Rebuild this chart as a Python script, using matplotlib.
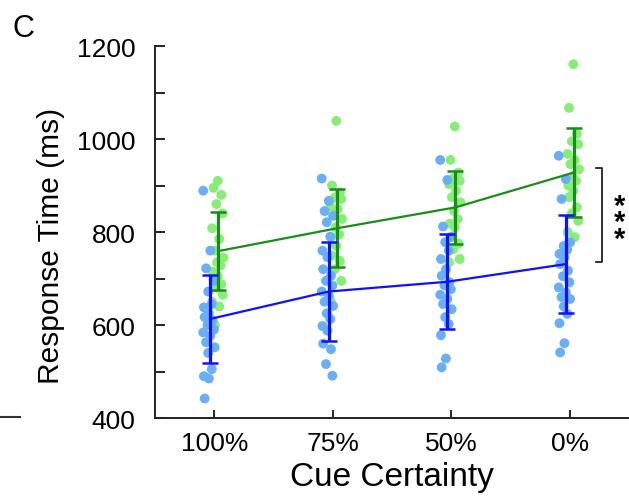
import matplotlib
matplotlib.use("Agg")
import matplotlib.pyplot as plt
from matplotlib.lines import Line2D

plt.rcParams['font.family'] = ['Liberation Sans', 'DejaVu Sans']

conditions = ["100%", "75%", "50%", "0%"]

# group means and error bar half-widths (ms)
green_mean = [759, 808, 853, 928]
green_err = [83, 84, 79, 95]
blue_mean = [613, 672, 693, 731]
blue_err = [95, 106, 102, 106]

# per-subject response times (ms)
green_pts = [
    [910, 895, 880, 860, 840, 808, 785, 760, 745, 735, 728, 715, 705, 698, 688, 680, 665, 650, 640, 600],
    [1039, 900, 885, 874, 871, 855, 849, 835, 828, 810, 795, 789, 770, 749, 738, 720, 695, 652],
    [1027, 955, 928, 915, 910, 903, 889, 875, 864, 845, 828, 818, 810, 789, 775, 763, 742, 735],
    [1161, 1067, 1011, 995, 989, 968, 955, 946, 935, 920, 910, 900, 889, 875, 853, 840, 824, 800, 789],
]
blue_pts = [
    [889, 760, 722, 695, 672, 645, 638, 625, 617, 610, 600, 590, 584, 577, 563, 552, 540, 505, 490, 485, 442],
    [915, 867, 845, 835, 821, 790, 760, 746, 720, 706, 695, 685, 672, 663, 650, 641, 625, 613, 598, 588, 560, 548, 516, 491],
    [955, 912, 812, 790, 778, 760, 742, 720, 706, 692, 685, 677, 665, 656, 645, 634, 617, 602, 578, 528, 509],
    [964, 914, 871, 778, 770, 762, 753, 745, 731, 717, 705, 692, 681, 670, 660, 656, 640, 624, 604, 561, 541],
]

# significance bracket (ms)
sig_top, sig_bottom = 938, 735
sig_label = '*\n*\n*'

jitter = [0.0, -0.06, 0.05, -0.02, 0.07, -0.08, 0.02, -0.04, 0.08, -0.01, 0.04, -0.07]

GREEN_DOT = '#86ee75'
BLUE_DOT = '#6aaef6'
GREEN_LINE = '#1a8c1a'
BLUE_LINE = '#1010ff'

fig = plt.figure(figsize=(6.29, 5.02), dpi=100)
ax = fig.add_axes([0.2464, 0.1653, 0.7536, 0.741])

xs = list(range(1, len(conditions) + 1))

for i, x in enumerate(xs):
    gx = [x + 0.03 + jitter[k % len(jitter)] * 0.6 for k in range(len(green_pts[i]))]
    ax.scatter(gx, green_pts[i], s=50, color=GREEN_DOT, edgecolors='none', zorder=2)
for i, x in enumerate(xs):
    bx = [x - 0.045 + jitter[(k + 5) % len(jitter)] * 0.6 for k in range(len(blue_pts[i]))]
    ax.scatter(bx, blue_pts[i], s=50, color=BLUE_DOT, edgecolors='none', zorder=2)

gxs = [x + 0.035 for x in xs]
bxs = [x - 0.035 for x in xs]
ax.plot(gxs, green_mean, color=GREEN_LINE, lw=1.6, zorder=3)
ax.errorbar(gxs, green_mean, yerr=green_err, fmt='none', ecolor=GREEN_LINE,
            elinewidth=2.3, capsize=6, capthick=1.8, zorder=3)
ax.plot(bxs, blue_mean, color=BLUE_LINE, lw=1.6, zorder=4)
ax.errorbar(bxs, blue_mean, yerr=blue_err, fmt='none', ecolor=BLUE_LINE,
            elinewidth=2.3, capsize=6, capthick=1.8, zorder=4)

# significance bracket between groups at 0%
ax.plot([4.22, 4.27, 4.27, 4.22], [sig_top, sig_top, sig_bottom, sig_bottom],
        color='#222222', lw=1.3, clip_on=False)
ax.annotate(sig_label, xy=(4.42, (sig_top + sig_bottom) / 2), xytext=(0, -5),
            textcoords='offset points', ha='center', va='center',
            linespacing=0.48, fontsize=21, fontweight='bold', color='black',
            annotation_clip=False)

ax.set_xlim(0.5, 4.5)
ax.set_ylim(400, 1200)
ax.set_xticks(xs)
ax.set_xticklabels(conditions)
ax.set_yticks([400, 600, 800, 1000, 1200])
ax.set_yticks(range(400, 1201, 100), minor=True)

for side in ['top', 'right']:
    ax.spines[side].set_visible(False)
for side in ['left', 'bottom']:
    ax.spines[side].set_linewidth(1.4)
    ax.spines[side].set_color('#222222')

ax.tick_params(axis='y', which='major', direction='in', length=7, width=1.2,
               labelsize=19, pad=14)
ax.tick_params(axis='y', which='minor', direction='in', length=7, width=1.2)
ax.tick_params(axis='x', direction='in', length=6, width=1.2,
               labelsize=19, pad=9)

ax.set_ylabel('Response Time (ms)', fontsize=21.5)
ax.yaxis.set_label_coords(-0.19, 0.465)
ax.set_xlabel('Cue Certainty', fontsize=24, labelpad=5)

fig.text(12 / 629, 1 - 14 / 502, 'C', fontsize=22, ha='left', va='top')
fig.add_artist(Line2D([0, 20 / 629], [1 - 418 / 502, 1 - 418 / 502],
                      color='#333333', lw=1.5))

fig.savefig('out.png', dpi=100)
